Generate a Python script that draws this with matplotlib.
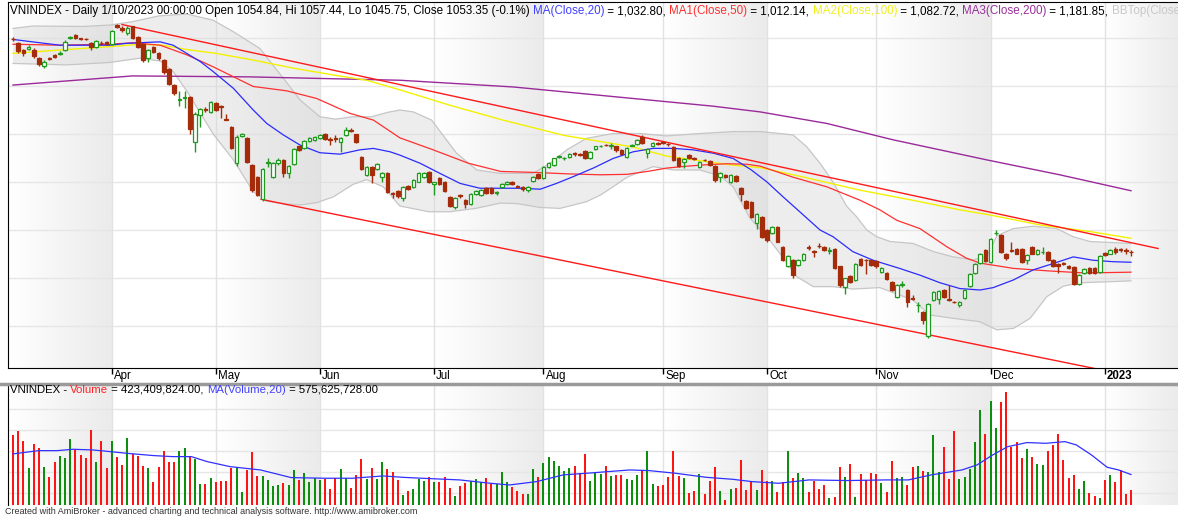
import numpy as np
import matplotlib
matplotlib.use("Agg")
import matplotlib.pyplot as plt
from matplotlib.colors import LinearSegmentedColormap
from matplotlib.transforms import IdentityTransform

# one bar per trading day: index 0 = 7 Mar 2022, index 215 = 10 Jan 2023
month_labels = ["Apr", "May", "Jun", "Jul", "Aug", "Sep", "Oct", "Nov", "Dec", "2023"]
month_starts = [19, 39, 59, 81, 102, 125, 145, 166, 188, 210]

open_ = [
    1498, 1489, 1475, 1478, 1476, 1458, 1442, 1458, 1465, 1466, 1474, 1499, 1506, 1499, 1498, 1489, 1482, 1490, 1491,
    1487, 1528, 1521, 1511, 1524, 1503, 1487, 1458, 1481, 1469, 1454, 1435, 1402, 1370, 1376, 1378, 1284, 1340, 1352, 1346,
    1365, 1358, 1332, 1314, 1239, 1296, 1291, 1235, 1210, 1164, 1239, 1211, 1240, 1246, 1218, 1237, 1274, 1270, 1286, 1287,
    1291, 1300, 1289, 1291, 1284, 1298, 1309, 1299, 1253, 1214, 1232, 1227, 1211, 1219, 1177, 1182, 1166, 1192, 1190, 1201, 1210, 1220,
    1196, 1208, 1201, 1168, 1147, 1173, 1162, 1155, 1175, 1173, 1187, 1187, 1178, 1190, 1196, 1201, 1191, 1190, 1183, 1203, 1216,
    1208, 1231, 1235, 1253, 1250, 1253, 1260, 1258, 1265, 1249, 1268, 1275, 1278, 1276, 1274, 1267, 1253, 1276, 1279, 1294, 1260, 1275, 1281,
    1283, 1280, 1273, 1251, 1242, 1256, 1250, 1232, 1246, 1244, 1233, 1211, 1215, 1199, 1212, 1188, 1160, 1159, 1114, 1128,
    1100, 1093, 1107, 1064, 1024, 1038, 1027, 1037, 1064, 1057, 1067, 1065, 1057, 1060, 1024, 982, 1004, 996, 1039, 1038, 1037,
    1036, 1013, 1011, 992, 961, 986, 976, 958, 943, 930, 879, 954, 957, 975, 956, 951, 944, 959, 983, 1010, 1032, 1058,
    1034, 1093, 1089, 1051, 1058, 1060, 1060, 1037, 1064, 1050, 1054, 1055, 1037, 1030, 1031, 1025, 1022, 987, 1010, 1020, 1020, 1013,
    1052, 1051, 1060, 1060, 1059, 1054.84,
]
high = [
    1503, 1492, 1478, 1485, 1479, 1461, 1454, 1460, 1467, 1473, 1495, 1505, 1509, 1501, 1500, 1492, 1496, 1493, 1494,
    1517, 1530, 1526, 1524, 1526, 1505, 1489, 1477, 1484, 1471, 1456, 1437, 1404, 1390, 1389, 1380, 1345, 1354, 1356, 1369,
    1367, 1360, 1341, 1316, 1297, 1303, 1293, 1237, 1212, 1229, 1249, 1242, 1250, 1248, 1236, 1270, 1276, 1288, 1293, 1295,
    1300, 1302, 1294, 1298, 1293, 1314, 1312, 1301, 1255, 1234, 1234, 1239, 1220, 1221, 1179, 1184, 1192, 1194, 1206, 1220, 1221, 1222,
    1200, 1210, 1203, 1170, 1168, 1175, 1164, 1177, 1184, 1185, 1189, 1189, 1182, 1198, 1203, 1203, 1194, 1192, 1192, 1212, 1218,
    1233, 1242, 1251, 1257, 1253, 1260, 1262, 1260, 1267, 1265, 1276, 1278, 1280, 1281, 1276, 1269, 1272, 1279, 1290, 1297, 1270, 1284, 1284,
    1286, 1282, 1275, 1253, 1249, 1258, 1252, 1244, 1248, 1246, 1235, 1221, 1217, 1217, 1214, 1190, 1162, 1161, 1135, 1130,
    1102, 1109, 1109, 1066, 1048, 1040, 1040, 1053, 1069, 1059, 1072, 1067, 1065, 1062, 1026, 1001, 1006, 1032, 1041, 1040, 1039,
    1038, 1023, 1013, 994, 987, 994, 978, 965, 951, 932, 948, 973, 975, 977, 985, 953, 953, 977, 1010, 1032, 1052, 1060,
    1083, 1099, 1091, 1053, 1076, 1062, 1062, 1050, 1066, 1060, 1064, 1057, 1039, 1032, 1034, 1027, 1024, 1008, 1020, 1022, 1022, 1048,
    1054, 1060, 1064, 1063, 1062, 1057.44,
]
low = [
    1493, 1468, 1463, 1474, 1459, 1442, 1438, 1455, 1458, 1464, 1472, 1497, 1497, 1495, 1495, 1475, 1480, 1485, 1485,
    1485, 1520, 1512, 1506, 1497, 1479, 1451, 1449, 1468, 1455, 1426, 1403, 1382, 1358, 1355, 1301, 1263, 1315, 1346, 1344,
    1347, 1333, 1329, 1268, 1234, 1293, 1240, 1180, 1170, 1161, 1232, 1209, 1236, 1211, 1208, 1235, 1265, 1268, 1284, 1285,
    1289, 1287, 1277, 1283, 1263, 1296, 1305, 1282, 1226, 1212, 1197, 1225, 1199, 1177, 1166, 1167, 1160, 1183, 1188, 1199, 1208, 1197,
    1173, 1194, 1180, 1147, 1143, 1166, 1145, 1153, 1173, 1171, 1176, 1176, 1173, 1188, 1194, 1194, 1187, 1182, 1180, 1201, 1206,
    1206, 1229, 1233, 1250, 1246, 1251, 1254, 1255, 1248, 1247, 1266, 1273, 1275, 1268, 1263, 1256, 1251, 1274, 1277, 1280, 1249, 1273, 1277,
    1279, 1276, 1243, 1231, 1230, 1247, 1245, 1230, 1243, 1233, 1201, 1201, 1208, 1197, 1201, 1161, 1143, 1125, 1103, 1084,
    1074, 1091, 1074, 1036, 1022, 1000, 1025, 1035, 1058, 1044, 1062, 1056, 1051, 1018, 982, 967, 990, 994, 1025, 1008, 1025,
    1020, 1011, 995, 972, 959, 982, 939, 954, 930, 904, 876, 952, 946, 958, 953, 947, 939, 957, 981, 1008, 1030, 1034,
    1032, 1089, 1053, 1038, 1054, 1049, 1032, 1029, 1049, 1048, 1050, 1035, 1022, 1011, 1027, 1018, 985, 985, 1008, 1008, 1008, 1011,
    1046, 1049, 1051, 1055, 1050, 1045.75,
]
close = [
    1497, 1472, 1468, 1481, 1462, 1445, 1451, 1456, 1460, 1468, 1492, 1503, 1499, 1497, 1497, 1481, 1494, 1489, 1487,
    1515, 1522, 1516, 1520, 1499, 1482, 1454, 1475, 1470, 1458, 1430, 1405, 1385, 1372, 1378, 1310, 1342, 1352, 1351, 1367,
    1349, 1356, 1330, 1270, 1294, 1301, 1242, 1183, 1172, 1228, 1241, 1240, 1245, 1218, 1234, 1268, 1267, 1286, 1291, 1293,
    1298, 1289, 1288, 1290, 1291, 1308, 1307, 1284, 1228, 1232, 1214, 1237, 1218, 1180, 1176, 1170, 1190, 1185, 1204, 1218, 1218, 1199,
    1199, 1196, 1182, 1150, 1166, 1171, 1155, 1175, 1182, 1183, 1178, 1178, 1180, 1196, 1201, 1196, 1190, 1185, 1190, 1210, 1208,
    1231, 1240, 1249, 1254, 1251, 1258, 1259, 1257, 1251, 1263, 1274, 1276, 1277, 1278, 1267, 1258, 1270, 1277, 1288, 1282, 1268, 1282, 1280,
    1281, 1279, 1245, 1233, 1247, 1249, 1248, 1242, 1245, 1235, 1204, 1219, 1210, 1215, 1203, 1175, 1145, 1128, 1133, 1086,
    1079, 1107, 1076, 1038, 1046, 1006, 1037, 1051, 1063, 1055, 1066, 1058, 1059, 1020, 985, 999, 992, 1030, 1027, 1037, 1027,
    1024, 1021, 997, 975, 985, 988, 951, 957, 944, 912, 946, 971, 973, 961, 955, 950, 951, 975, 1008, 1030, 1050, 1036,
    1081, 1094, 1055, 1041, 1056, 1051, 1034, 1048, 1051, 1058, 1055, 1037, 1024, 1026, 1030, 1020, 987, 1006, 1018, 1010, 1010, 1046,
    1048, 1058, 1055, 1059, 1057, 1053.35,
]
# volume in millions of shares
volume = [
    952, 991, 899, 638, 867, 826, 645, 549, 695, 749, 733, 914, 807, 765, 733, 997, 695, 892, 638,
    892, 740, 667, 924, 772, 753, 660, 641, 508, 645, 800, 698, 698, 803, 826, 749, 724, 486, 483, 540,
    508, 514, 514, 638, 645, 410, 619, 794, 562, 562, 527, 467, 480, 495, 480, 619, 524, 587, 508, 546,
    524, 530, 435, 543, 626, 543, 451, 572, 721, 533, 635, 533, 695, 629, 603, 524, 381, 419, 435, 533, 518, 556,
    502, 508, 556, 451, 368, 467, 498, 518, 533, 508, 546, 486, 483, 603, 505, 457, 416, 391, 391, 629, 549,
    689, 743, 708, 657, 613, 635, 657, 587, 775, 518, 597, 581, 657, 565, 572, 572, 533, 524, 572, 619, 800, 483, 467,
    476, 549, 800, 562, 546, 403, 419, 578, 391, 518, 645, 419, 333, 441, 448, 711, 429, 502, 426, 619,
    514, 514, 410, 508, 800, 546, 587, 540, 410, 514, 438, 476, 352, 359, 645, 556, 676, 359, 581, 524, 587,
    581, 498, 410, 705, 540, 549, 473, 645, 654, 610, 600, 949, 600, 841, 537, 991, 533, 549, 626, 883, 1191, 965,
    1276, 1019, 1267, 1362, 841, 883, 737, 819, 746, 676, 667, 800, 857, 962, 711, 540, 568, 435, 514, 397, 375, 356,
    524, 568, 508, 619, 391, 423.41,
]

# indicator lines as (bar index, value) pairs
ma20 = [(0, 1497), (9, 1485), (18.6, 1485), (22, 1489), (28.3, 1492), (30.8, 1485), (33.4, 1468), (36, 1451),
        (38.5, 1430), (42.4, 1395), (46.2, 1350), (48.8, 1322), (52, 1298), (55.2, 1277), (59, 1261), (62.9, 1258),
        (66.7, 1267), (69.3, 1270), (72.5, 1263), (74.4, 1256), (78.3, 1239), (82.1, 1218), (86, 1197), (89.8, 1187),
        (93.6, 1187), (97.5, 1187), (101.4, 1185), (104.5, 1197), (107.7, 1211), (111.6, 1229), (115.4, 1249),
        (119.3, 1263), (123.1, 1270), (127, 1270), (130.8, 1267), (134.7, 1260), (138.5, 1249), (142, 1225),
        (145, 1200), (148, 1170), (151.3, 1138), (155.2, 1100), (157.7, 1086), (161.5, 1055), (165.4, 1037),
        (170.5, 1020), (174.4, 1006), (178.3, 990), (182.1, 978), (186, 975), (188.5, 980), (192.4, 996),
        (196.2, 1017), (200, 1030), (203.9, 1044), (207.7, 1037), (211.5, 1034), (215, 1032.8)]
ma50 = [(0, 1487), (9, 1485), (18.6, 1487), (23, 1490), (28.3, 1485), (33.4, 1465), (38.5, 1440), (46.2, 1399),
        (52.6, 1390), (58.4, 1374), (64.8, 1343), (69.3, 1329), (74.4, 1292), (80.8, 1267), (87.6, 1239),
        (93.8, 1222), (100.2, 1220), (106.6, 1217), (113, 1215), (118.1, 1216), (122, 1222), (125.7, 1229),
        (129.6, 1233), (133.4, 1236), (137.3, 1238), (141.1, 1237), (143.7, 1233), (150, 1210), (156.5, 1190),
        (162.9, 1162), (166.7, 1142), (170, 1120), (174.4, 1103), (179.6, 1065), (183.4, 1041), (186, 1031),
        (192.4, 1020), (198.8, 1015), (205.2, 1011), (209, 1011), (215, 1012.14)]
ma100 = [(0, 1468), (9, 1475), (18.6, 1482), (24.4, 1487), (28.8, 1485), (33.4, 1476), (39, 1468), (46.2, 1454),
         (54, 1437), (61.6, 1423), (68, 1412), (74.4, 1392), (84, 1360), (94.2, 1329), (106, 1297), (119.2, 1273),
         (125.7, 1254), (138.5, 1235), (143.7, 1230), (151.3, 1212), (162.9, 1183), (173, 1162), (182.1, 1142),
         (188, 1131), (197.8, 1110), (207, 1097), (215, 1082.72)]
ma200 = [(0, 1402), (23, 1421), (45.6, 1419), (74.4, 1412), (96.2, 1398), (115.4, 1378), (134.6, 1358),
         (143.7, 1346), (156.5, 1322), (169.2, 1288), (187.3, 1246), (201.3, 1215), (215, 1181.85)]
bb_top = [(0, 1520), (3.9, 1525), (13.5, 1524), (18.6, 1527), (23, 1534), (28, 1546), (33.4, 1550), (38.5, 1537),
          (42.4, 1513), (47.5, 1478), (52, 1416), (55.2, 1371), (59, 1336), (62, 1331), (65.4, 1336), (69, 1336),
          (72, 1345), (74.4, 1350), (77, 1346), (80.5, 1329), (85.3, 1260), (89.2, 1225), (93.7, 1218), (100, 1218),
          (103.3, 1239), (106.5, 1267), (110.3, 1291), (115.4, 1301), (120.6, 1301), (125.7, 1296), (132.1, 1301),
          (138.5, 1305), (143.7, 1305), (147.5, 1301), (150, 1298), (152.6, 1274), (155.2, 1239), (157.7, 1200),
          (160.3, 1150), (162.2, 1128), (164.2, 1100), (166.1, 1086), (168.7, 1076), (173.1, 1072), (177, 1055),
          (180.8, 1044), (184.7, 1038), (187.3, 1045), (189.2, 1088), (192.4, 1103), (196.2, 1108), (200.7, 1103),
          (203.9, 1086), (207.1, 1076), (215, 1072)]
bb_bot = [(0, 1447), (10.3, 1444), (18.6, 1449), (24.4, 1458), (28.3, 1452), (30.8, 1430), (33.4, 1390),
          (38.5, 1300), (42.4, 1246), (46.2, 1180), (48.8, 1160), (52, 1155), (55.2, 1152), (58.4, 1157),
          (61.6, 1169), (65.4, 1195), (68, 1205), (71.2, 1190), (74.4, 1150), (80, 1138), (84, 1138), (89, 1145),
          (93.7, 1156), (97, 1155), (101.3, 1147), (105.2, 1145), (110.3, 1159), (113, 1173), (115.4, 1190),
          (118.1, 1210), (123.1, 1232), (127, 1225), (132.1, 1225), (135.9, 1213), (138.5, 1190), (141.7, 1125),
          (145, 1086), (148, 1044), (150.7, 1003), (153.9, 982), (157.7, 982), (161.5, 977), (166.7, 980),
          (173.1, 954), (176.3, 923), (180.8, 916), (185.9, 909), (189.2, 892), (192.4, 895), (195.6, 916),
          (198.8, 961), (202, 983), (205.2, 990), (215, 994)]
vol_ma20 = [(0, 772), (4.9, 803), (8.5, 803), (11.5, 816), (15.2, 810), (17.4, 800), (21.8, 778), (27, 756),
            (30.7, 746), (34.3, 746), (37.3, 699), (41.7, 651), (47.6, 619), (53.5, 546), (60.1, 540), (65.3, 540),
            (71.2, 562), (74.9, 549), (78.6, 540), (85.9, 524), (91.8, 492), (95.5, 476), (100.7, 508), (105.8, 572),
            (110.2, 587), (118.6, 619), (122.3, 613), (127.5, 587), (133.3, 549), (138.4, 530), (142.1, 508),
            (147.2, 492), (153.1, 524), (160.4, 518), (167.8, 524), (172.2, 524), (176.6, 572), (182.5, 619),
            (185.4, 667), (188.4, 762), (191.3, 841), (195, 880), (198.6, 873), (202.3, 889), (204.5, 857),
            (207.4, 762), (210.4, 645), (212.6, 619), (215, 575.6)]
# channel trendlines (start, end)
upper_trend = [(20.96, 1528.1), (220.2, 1061.5)]
lower_trend = [(47.7, 1164.0), (213.5, 799.4)]

W, H = 1178, 516
XL = (-0.96, 224.04)
UP, DN = "#1f9a1f", "#a52c0a"

fig = plt.figure(figsize=(W / 100, H / 100), dpi=100)
ax = fig.add_axes([8 / W, (H - 368) / H, 1170 / W, 366 / H])
axv = fig.add_axes([8 / W, (H - 505) / H, 1170 / W, 119 / H])

ax.set_xlim(*XL)
ax.set_ylim(812.5, 1575)
axv.set_xlim(*XL)
axv.set_ylim(285, 1419)

# alternate month shading with a soft gradient
bg = LinearSegmentedColormap.from_list("bg", ["#ffffff", "#ebebeb"])
edges = [XL[0]] + month_starts + [XL[1]]
grad = np.linspace(0, 1, 64)[None, :]
for k in range(0, len(edges) - 1, 2):
    for a, (y0, y1) in ((ax, ax.get_ylim()), (axv, axv.get_ylim())):
        a.imshow(grad, cmap=bg, extent=(edges[k], edges[k + 1], y0, y1), aspect="auto", zorder=0)

for a, ticks in ((ax, range(900, 1501, 100)), (axv, range(400, 1201, 200))):
    for t in ticks:
        a.axhline(t, color="#e6e6e6", lw=1, zorder=0.5)
    for m in month_starts:
        a.axvline(m, color="#e2e2e2", lw=1, zorder=0.5)

# bollinger band
poly_x = [p[0] for p in bb_top] + [p[0] for p in bb_bot][::-1]
poly_y = [p[1] for p in bb_top] + [p[1] for p in bb_bot][::-1]
ax.fill(poly_x, poly_y, color="#d9d9d9", alpha=0.45, lw=0, zorder=1)
for pts in (bb_top, bb_bot):
    ax.plot(*zip(*pts), color="#c6c6c6", lw=0.9, zorder=1.5)

ax.plot(*zip(*ma200), color="#9a2a9a", lw=1.0, zorder=2)
ax.plot(*zip(*ma100), color="#f2f200", lw=1.0, zorder=2)
ax.plot(*zip(*ma50), color="#ff3030", lw=0.9, zorder=2)
ax.plot(*zip(*ma20), color="#2b2bff", lw=0.9, zorder=2)
for pts in (upper_trend, lower_trend):
    ax.plot(*zip(*pts), color="#ff1a1a", lw=1.0, zorder=2.5)

# candles
x = np.arange(len(close))
o, h, l, c = map(np.array, (open_, high, low, close))
up = c >= o
lo = np.minimum(o, c)
bh = np.abs(c - o)
ax.vlines(x[up], l[up], h[up], color=UP, lw=1, zorder=3)
ax.vlines(x[~up], l[~up], h[~up], color=DN, lw=1, zorder=3)
ax.bar(x[up], bh[up], bottom=lo[up], width=0.68, facecolor="white", edgecolor=UP, lw=0.9, zorder=4)
ax.bar(x[~up], bh[~up], bottom=lo[~up], width=0.68, facecolor=DN, edgecolor=DN, lw=0.9, zorder=4)

# volume
vcol = np.where(up, "#0c8f0c", "#ff1414")
axv.bar(x, volume, width=0.4, color=vcol, zorder=2)
axv.plot(*zip(*vol_ma20), color="#3030ff", lw=0.9, zorder=3)

for a in (ax, axv):
    a.set_yticks([])
    a.spines["right"].set_visible(False)
    a.spines["left"].set_color("black")
axv.spines["top"].set_visible(False)
axv.spines["bottom"].set_visible(False)
axv.set_xticks([])

ax.set_xticks(month_starts)
ax.set_xticklabels([])
ax.tick_params(axis="x", length=4, width=1, direction="out", color="black")
for m, lab in zip(month_starts, month_labels):
    ax.text(m + 0.4, -0.005, lab, transform=ax.get_xaxis_transform(), ha="left", va="top",
            fontsize=8.3, family="Liberation Sans", fontweight="bold" if lab == "2023" else "normal")

fig.add_artist(plt.Line2D([0, 1], [(H - 384) / H] * 2, color="#9a9a9a", lw=2.5, transform=fig.transFigure))

renderer = fig.canvas.get_renderer()


def color_text(px, py, parts, size=8.4):
    for s, col in parts:
        t = fig.text(px, H - py, s, color=col, fontsize=size, family="Liberation Sans",
                     ha="left", va="center", transform=IdentityTransform())
        px += t.get_window_extent(renderer).width


color_text(10, 11, [
    ("VNINDEX - Daily 1/10/2023 00:00:00 Open 1054.84, Hi 1057.44, Lo 1045.75, Close 1053.35 (-0.1%) ", "black"),
    ("MA(Close,20)", "#4040ff"), (" = 1,032.80, ", "black"),
    ("MA1(Close,50)", "#ff3030"), (" = 1,012.14, ", "black"),
    ("MA2(Close,100)", "#f0f020"), (" = 1,082.72, ", "black"),
    ("MA3(Close,200)", "#9a309a"), (" = 1,181.85, ", "black"),
    ("BBTop(Close,20", "#c8c8c8"),
])
color_text(10, 390, [
    ("VNINDEX - ", "black"), ("Volume", "#ff2020"), (" = 423,409,824.00, ", "black"),
    ("MA(Volume,20)", "#4040ff"), (" = 575,625,728.00", "black"),
], size=8.2)
fig.text(5 / W, (H - 512) / H, "Created with AmiBroker - advanced charting and technical analysis software. "
         "http://www.amibroker.com", fontsize=6.5, color="#333333", family="Liberation Sans",
         ha="left", va="center")

fig.savefig("out.png", dpi=100)
